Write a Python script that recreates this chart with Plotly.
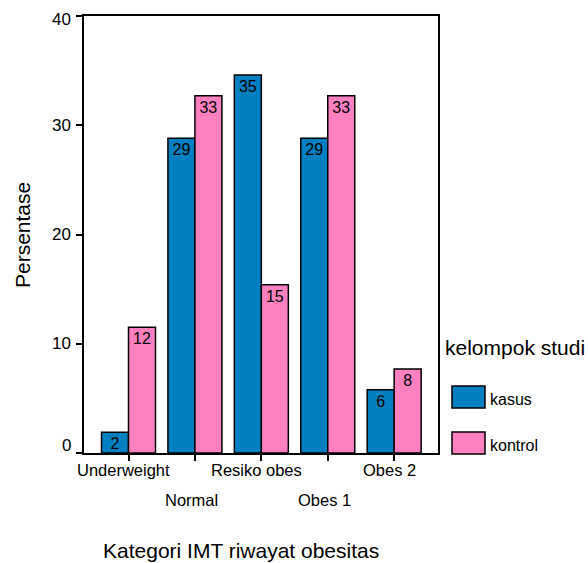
import plotly.graph_objects as go

# Share of respondents per BMI (IMT) category, by study group
categories = ["Underweight", "Normal", "Resiko obes", "Obes 1", "Obes 2"]
kasus = [1.9, 28.8, 34.6, 28.8, 5.8]
kontrol = [11.5, 32.7, 15.4, 32.7, 7.7]
y_ticks = [0, 10, 20, 30, 40]

BLUE = "#0080C0"
PINK = "#FF80C0"
FONT = "Arial, Liberation Sans, sans-serif"

W, H = 588, 563
L, R, T, B = 84, 150, 16, 110
PW, PH = W - L - R, H - T - B


def px_x(px):
    return (px - L) / PW


def px_y(py):
    return (H - B - py) / PH


xpos = list(range(len(categories)))

fig = go.Figure()
for name, vals, col in [("kasus", kasus, BLUE), ("kontrol", kontrol, PINK)]:
    fig.add_trace(go.Bar(
        x=xpos, y=vals, name=name,
        marker=dict(color=col, line=dict(color="black", width=1.5)),
        texttemplate="%{y:.0f}",
        textposition="inside", insidetextanchor="end", textangle=0,
        insidetextfont=dict(family=FONT, size=16, color="black"),
        constraintext="none", cliponaxis=False,
        showlegend=False,
    ))

annotations = []
# category labels, staggered over two rows
for i, c in enumerate(categories):
    row = i % 2
    annotations.append(dict(
        x=i, xref="x", y=0, yref="paper", yanchor="top", xanchor="center",
        xshift=-5 if row == 0 else -3, yshift=-6 - 30 * row,
        text=c, showarrow=False, font=dict(family=FONT, size=16.5, color="black"),
    ))

# value-axis labels; the end labels are nudged inside the frame
for v in y_ticks:
    shift = 8 if v == y_ticks[0] else (-3 if v == y_ticks[-1] else 0)
    annotations.append(dict(
        x=0, xref="paper", y=v, yref="y", xanchor="right", yanchor="middle",
        xshift=-11, yshift=shift, text=str(v), showarrow=False,
        font=dict(family=FONT, size=17, color="black"),
    ))

annotations += [
    dict(x=px_x(241), xref="paper", y=px_y(550), yref="paper",
         text="Kategori IMT riwayat obesitas", showarrow=False,
         xanchor="center", yanchor="middle",
         font=dict(family=FONT, size=21, color="black")),
    dict(x=px_x(22), xref="paper", y=px_y(235), yref="paper",
         text="Persentase", showarrow=False, textangle=-90,
         xanchor="center", yanchor="middle",
         font=dict(family=FONT, size=21, color="black")),
    dict(x=px_x(443), xref="paper", y=px_y(347), yref="paper",
         text="kelompok studi", showarrow=False,
         xanchor="left", yanchor="middle",
         font=dict(family=FONT, size=21, color="black")),
]

# legend: swatches and labels
shapes = []
for name, col, top in [("kasus", BLUE, 386), ("kontrol", PINK, 432)]:
    shapes.append(dict(type="rect", xref="paper", yref="paper",
                       x0=px_x(452), x1=px_x(485), y0=px_y(top), y1=px_y(top + 22),
                       fillcolor=col, line=dict(color="black", width=1.5)))
    annotations.append(dict(x=px_x(488), xref="paper", y=px_y(top + 13), yref="paper",
                            text=name, showarrow=False, xanchor="left", yanchor="middle",
                            font=dict(family=FONT, size=16, color="black")))

fig.update_layout(
    width=W, height=H,
    margin=dict(l=L, r=R, t=T, b=B),
    paper_bgcolor="white", plot_bgcolor="white",
    barmode="group", bargap=0.187, bargroupgap=0,
    font=dict(family=FONT, size=16, color="black"),
    annotations=annotations, shapes=shapes,
    showlegend=False,
)
fig.update_xaxes(
    range=[-0.67, 4.66], tickmode="array", tickvals=xpos, ticktext=[""] * len(xpos),
    ticks="outside", ticklen=6, tickwidth=1.5, tickcolor="black",
    showline=True, linecolor="black", linewidth=1.5, mirror=True,
    showgrid=False, zeroline=False, fixedrange=True,
)
fig.update_yaxes(
    range=[0, 40], tickmode="array", tickvals=y_ticks, showticklabels=False,
    ticks="outside", ticklen=6, tickwidth=1.5, tickcolor="black",
    showline=True, linecolor="black", linewidth=1.5, mirror=True,
    showgrid=False, zeroline=False, fixedrange=True,
)

fig.write_html("out.html", config={"displayModeBar": False})
